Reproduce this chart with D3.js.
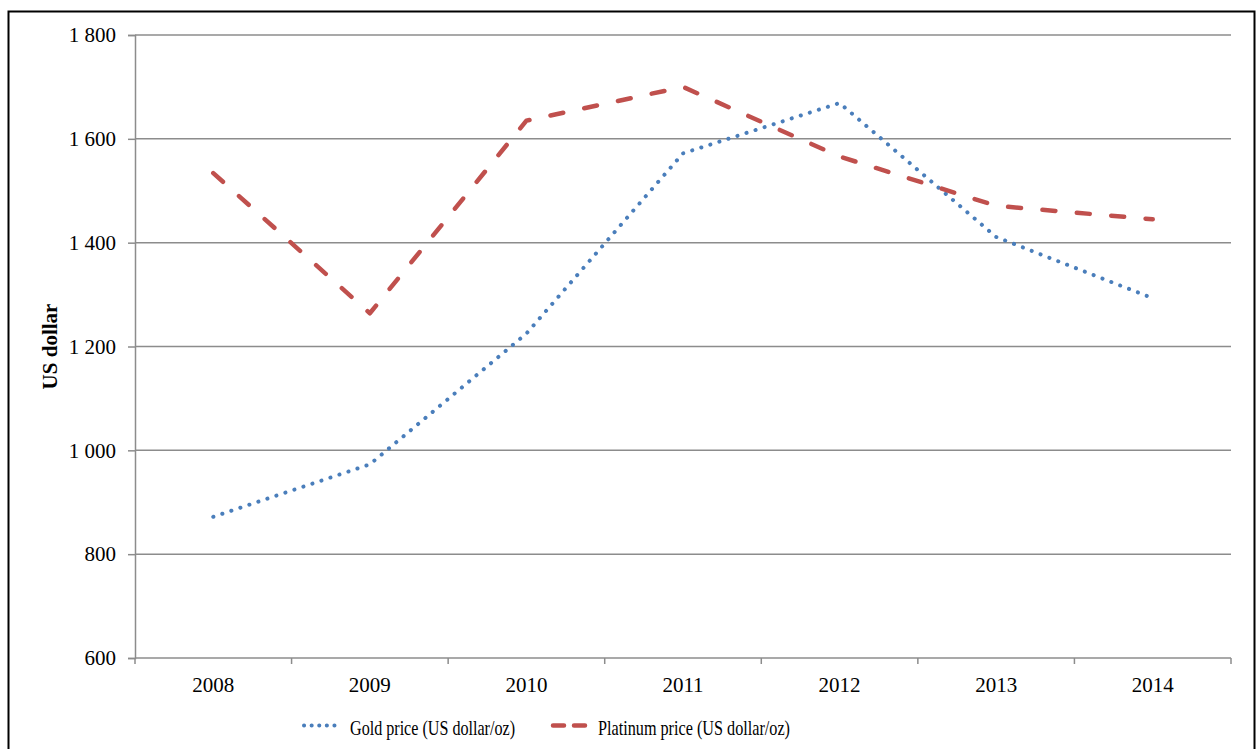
<!DOCTYPE html>
<html>
<head>
<meta charset="utf-8">
<script src="https://cdn.jsdelivr.net/npm/d3@7"></script>
<style>
  html, body { margin: 0; padding: 0; background: #fff; }
  svg { display: block; }
  text { font-family: "Liberation Serif", "Times New Roman", serif; fill: #000; }
</style>
</head>
<body>
<svg id="chart" width="1258" height="749"></svg>
<script>
// Annual average prices, US dollar per troy ounce
const years = ["2008", "2009", "2010", "2011", "2012", "2013", "2014"];
const goldPrice = [872, 973, 1225, 1572, 1669, 1411, 1293];
const platinumPrice = [1534, 1264, 1635, 1700, 1566, 1471, 1445];
const yTicks = [600, 800, 1000, 1200, 1400, 1600, 1800];
const seriesNames = ["Gold price (US dollar/oz)", "Platinum price (US dollar/oz)"];

const FONT = '"Liberation Serif", "Times New Roman", serif';
const svg = d3.select("#chart").attr("font-family", FONT);
const W = 1258, H = 749;
const m = { left: 135, right: 27, top: 35, bottom: 91 };
const innerW = W - m.left - m.right;
const innerH = H - m.top - m.bottom;

const gridColor = "#8c8c8c";
const goldColor = "#4a7ebb";
const platColor = "#c0504d";

// outer frame
svg.append("rect")
  .attr("x", 8.5).attr("y", 11.5)
  .attr("width", 1246).attr("height", 760)
  .attr("fill", "none").attr("stroke", "#000").attr("stroke-width", 2);

const g = svg.append("g").attr("transform", `translate(${m.left},${m.top})`);

const x = d3.scaleBand().domain(years).range([0, innerW]).paddingInner(0).paddingOuter(0);
const y = d3.scaleLinear().domain([600, 1800]).range([innerH, 0]);
const xc = d => x(d) + x.bandwidth() / 2;

// horizontal gridlines
g.append("g").selectAll("line")
  .data(yTicks.slice(1))
  .join("line")
  .attr("x1", 0).attr("x2", innerW)
  .attr("y1", d => y(d)).attr("y2", d => y(d))
  .attr("stroke", gridColor).attr("stroke-width", 1.5);

// y axis
const fmt = d => d >= 1000 ? d3.format(",")(d).replace(",", " ") : String(d);
const yAxis = g.append("g")
  .call(d3.axisLeft(y).tickValues(yTicks).tickFormat(fmt).tickSize(7).tickPadding(12));
yAxis.attr("font-family", FONT).attr("font-size", 21);
yAxis.select(".domain").attr("stroke", gridColor).attr("stroke-width", 1.5);
yAxis.selectAll(".tick line").attr("stroke", gridColor).attr("stroke-width", 1.5);
yAxis.selectAll(".tick text")
  .style("font-family", FONT).style("font-size", "21px").attr("fill", "#000");

// x axis: ticks at category boundaries
const xAxisG = g.append("g").attr("transform", `translate(0,${innerH})`);
xAxisG.append("line")
  .attr("x1", 0).attr("x2", innerW).attr("y1", 0).attr("y2", 0)
  .attr("stroke", gridColor).attr("stroke-width", 1.5);
const bounds = years.map(d => x(d)).concat([innerW]);
xAxisG.selectAll("line.tk")
  .data(bounds)
  .join("line").attr("class", "tk")
  .attr("x1", d => d).attr("x2", d => d).attr("y1", 0).attr("y2", 6)
  .attr("stroke", gridColor).attr("stroke-width", 1.5);
xAxisG.selectAll("text")
  .data(years)
  .join("text")
  .attr("x", d => xc(d)).attr("y", 34)
  .attr("text-anchor", "middle")
  .style("font-family", FONT)
  .style("font-size", "21px")
  .text(d => d);

// y axis title
svg.append("text")
  .attr("transform", `translate(57,${m.top + innerH / 2}) rotate(-90)`)
  .attr("text-anchor", "middle")
  .style("font-family", FONT)
  .style("font-size", "21px").style("font-weight", "bold")
  .text("US dollar");

// series lines
const line = d3.line().x((d, i) => xc(years[i])).y(d => y(d));

g.append("path")
  .datum(goldPrice)
  .attr("d", line)
  .attr("fill", "none")
  .attr("stroke", goldColor).attr("stroke-width", 4)
  .attr("stroke-linecap", "round")
  .attr("stroke-dasharray", "0.1 9.4");

g.append("path")
  .datum(platinumPrice)
  .attr("d", line)
  .attr("fill", "none")
  .attr("stroke", platColor).attr("stroke-width", 4.5)
  .attr("stroke-linecap", "round")
  .attr("stroke-linejoin", "round")
  .attr("stroke-dasharray", "13 21.5");

// legend
const legY = 725.5;
const leg = svg.append("g");
leg.append("line")
  .attr("x1", 304).attr("x2", 342).attr("y1", legY).attr("y2", legY)
  .attr("stroke", goldColor).attr("stroke-width", 4)
  .attr("stroke-linecap", "round").attr("stroke-dasharray", "0.1 7.5");
leg.append("text")
  .attr("x", 350).attr("y", 735)
  .style("font-family", FONT)
  .style("font-size", "21px")
  .attr("textLength", 165).attr("lengthAdjust", "spacingAndGlyphs")
  .text(seriesNames[0]);
leg.append("line")
  .attr("x1", 553).attr("x2", 588).attr("y1", legY).attr("y2", legY)
  .attr("stroke", platColor).attr("stroke-width", 4.5)
  .attr("stroke-linecap", "round").attr("stroke-dasharray", "11 10");
leg.append("text")
  .attr("x", 598).attr("y", 735)
  .style("font-family", FONT)
  .style("font-size", "21px")
  .attr("textLength", 192).attr("lengthAdjust", "spacingAndGlyphs")
  .text(seriesNames[1]);
</script>
</body>
</html>
